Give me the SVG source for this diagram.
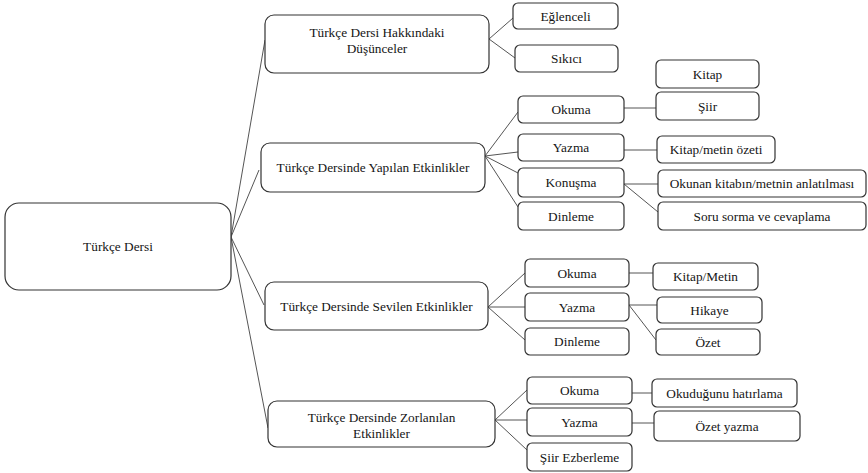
<svg xmlns="http://www.w3.org/2000/svg" width="868" height="473" viewBox="0 0 868 473" font-family="Liberation Serif, Times New Roman, serif">
<style>
.b{fill:#fff;stroke:#333;stroke-width:1.2}
.t{font-size:13.3px;fill:#151515;text-anchor:middle}
.c{stroke:#555;stroke-width:1;fill:none}
</style>
<rect width="868" height="473" fill="#fff"/>
<g id="connectors">
<path class="c" d="M231 237L265 40M231 237L259 170M231 237L264 305M231 237L268 428"/>
<path class="c" d="M489 39L513 18M489 39L515 58"/>
<path class="c" d="M485 156L518 112M485 156L518 152M485 156L518 173M485 156L518 207"/>
<path class="c" d="M624 108L656 108M624 150L657 150M624 184L658 184M624 184L658 212"/>
<path class="c" d="M488 307L525 273M488 307L525 307M488 307L525 340"/>
<path class="c" d="M629 273L653 273M629 305L657 305M629 305L656 340"/>
<path class="c" d="M495 420L527 390M495 420L527 420M495 420L527 450"/>
<path class="c" d="M632 393L652 393M632 423L654 423"/>
</g>
<g id="root"><rect class="b" x="5" y="203" width="226" height="87" rx="14"/><text class="t" x="118" y="251">Türkçe Dersi</text></g>
<g id="n1"><rect class="b" x="265" y="15" width="224" height="58" rx="9"/><text class="t" x="377" y="37">Türkçe Dersi Hakkındaki</text><text class="t" x="377" y="53">Düşünceler</text></g>
<g id="n1a"><rect class="b" x="513" y="3" width="105" height="26" rx="5"/><text class="t" x="565.5" y="20.5">Eğlenceli</text></g>
<g id="n1b"><rect class="b" x="515" y="45" width="103" height="27" rx="5"/><text class="t" x="566.5" y="63">Sıkıcı</text></g>
<g id="n2"><rect class="b" x="261" y="143" width="224" height="49" rx="9"/><text class="t" x="373" y="172">Türkçe Dersinde Yapılan Etkinlikler</text></g>
<g id="n2a"><rect class="b" x="518" y="96" width="106" height="27" rx="5"/><text class="t" x="571" y="114">Okuma</text></g>
<g id="n2b"><rect class="b" x="518" y="134" width="106" height="27" rx="5"/><text class="t" x="571" y="152">Yazma</text></g>
<g id="n2c"><rect class="b" x="518" y="168" width="106" height="29" rx="5"/><text class="t" x="571" y="187">Konuşma</text></g>
<g id="n2d"><rect class="b" x="518" y="202" width="106" height="28" rx="5"/><text class="t" x="571" y="220.5">Dinleme</text></g>
<g id="n2a1"><rect class="b" x="656" y="60" width="103" height="28" rx="5"/><text class="t" x="707.5" y="78.5">Kitap</text></g>
<g id="n2a2"><rect class="b" x="656" y="92" width="103" height="28" rx="5"/><text class="t" x="707.5" y="110.5">Şiir</text></g>
<g id="n2b1"><rect class="b" x="657" y="136" width="118" height="27" rx="5"/><text class="t" x="716" y="154">Kitap/metin özeti</text></g>
<g id="n2c1"><rect class="b" x="658" y="170" width="208" height="27" rx="5"/><text class="t" x="762" y="188">Okunan kitabın/metnin anlatılması</text></g>
<g id="n2c2"><rect class="b" x="658" y="202" width="208" height="28" rx="5"/><text class="t" x="762" y="220.5">Soru sorma ve cevaplama</text></g>
<g id="n3"><rect class="b" x="265" y="282" width="223" height="48" rx="9"/><text class="t" x="376.5" y="310.5">Türkçe Dersinde Sevilen Etkinlikler</text></g>
<g id="n3a"><rect class="b" x="525" y="259" width="104" height="28" rx="5"/><text class="t" x="577" y="277.5">Okuma</text></g>
<g id="n3b"><rect class="b" x="525" y="293" width="104" height="28" rx="5"/><text class="t" x="577" y="311.5">Yazma</text></g>
<g id="n3c"><rect class="b" x="525" y="328" width="104" height="27" rx="5"/><text class="t" x="577" y="346">Dinleme</text></g>
<g id="n3a1"><rect class="b" x="653" y="263" width="105" height="27" rx="5"/><text class="t" x="705.5" y="281">Kitap/Metin</text></g>
<g id="n3b1"><rect class="b" x="657" y="297" width="105" height="26" rx="5"/><text class="t" x="709.5" y="314.5">Hikaye</text></g>
<g id="n3b2"><rect class="b" x="656" y="329" width="104" height="26" rx="5"/><text class="t" x="708" y="346.5">Özet</text></g>
<g id="n4"><rect class="b" x="268" y="401" width="227" height="46" rx="9"/><text class="t" x="381.5" y="422">Türkçe Dersinde Zorlanılan</text><text class="t" x="381.5" y="438">Etkinlikler</text></g>
<g id="n4a"><rect class="b" x="527" y="377" width="105" height="27" rx="5"/><text class="t" x="579.5" y="395">Okuma</text></g>
<g id="n4b"><rect class="b" x="527" y="408" width="105" height="28" rx="5"/><text class="t" x="579.5" y="426.5">Yazma</text></g>
<g id="n4c"><rect class="b" x="527" y="443" width="105" height="28" rx="5"/><text class="t" x="579.5" y="461.5">Şiir Ezberleme</text></g>
<g id="n4a1"><rect class="b" x="652" y="379" width="145" height="28" rx="5"/><text class="t" x="724.5" y="397.5">Okuduğunu hatırlama</text></g>
<g id="n4b1"><rect class="b" x="654" y="411" width="146" height="30" rx="5"/><text class="t" x="727" y="430.5">Özet yazma</text></g>
</svg>
